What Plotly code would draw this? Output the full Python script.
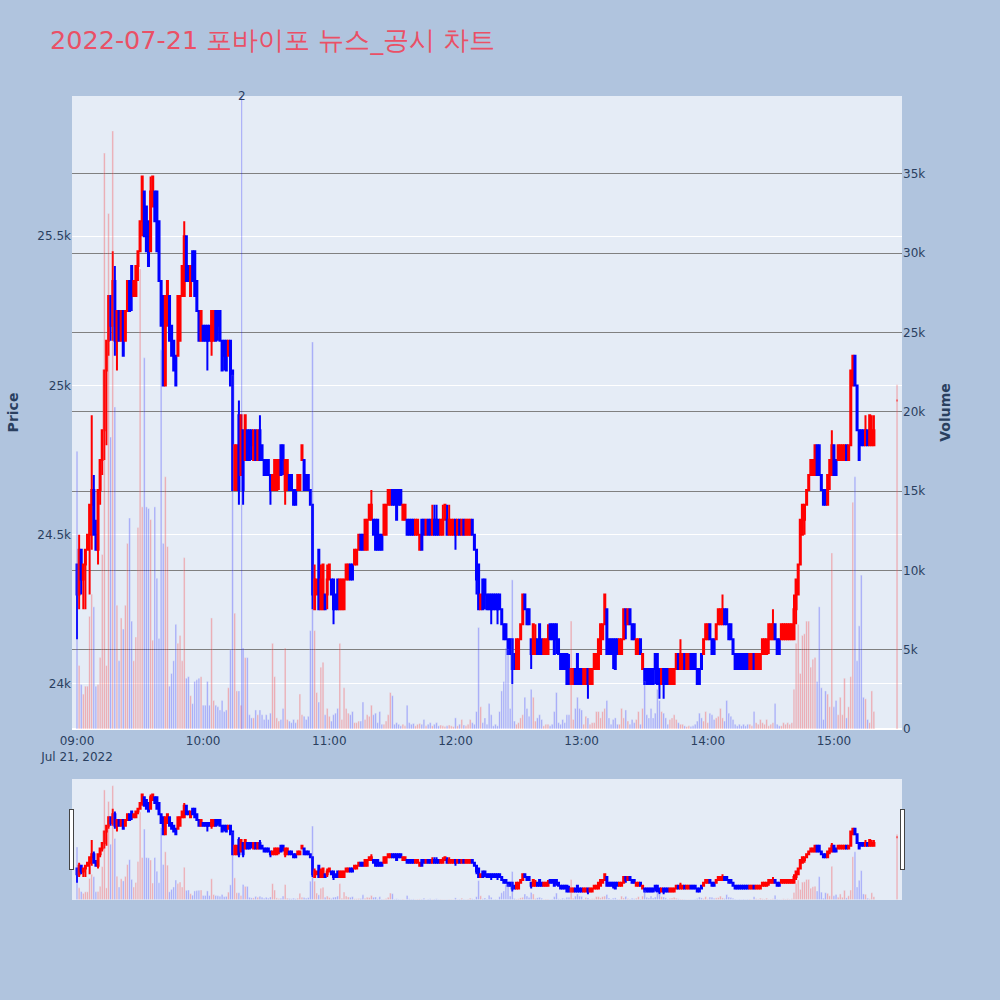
import pandas as pd
import plotly.graph_objects as go
from plotly.subplots import make_subplots

# ---- data (1-minute bars, 09:00 .. 15:19, plus 15:30 closing auction) ----
minute_times = [t.strftime("%Y-%m-%d %H:%M:%S") for t in pd.date_range("2022-07-21 09:00", periods=380, freq="min")]
times = minute_times + ["2022-07-21 15:30:00"]

open_ = [
    24400,24300,24450,24350,24400,24450,24500,24600,24650,24500,  # 09:00
    24450,24650,24750,24850,25050,25150,25300,25200,25350,25150,  # 09:10
    25250,25150,25250,25150,25250,25350,25400,25300,25300,25400,  # 09:20
    25450,25550,25650,25600,25550,25450,25600,25650,25650,25550,  # 09:30
    25350,25300,25000,25200,25300,25200,25150,25100,25100,25150,  # 09:40
    25300,25300,25500,25400,25300,25450,25450,25350,25250,25150,  # 09:50
    25200,25200,25200,25200,25150,25150,25250,25250,25250,25150,  # 10:00
    25150,25150,25100,25150,25050,24650,24650,24900,24700,24850,  # 10:10
    24750,24850,24850,24850,24750,24850,24750,24850,24800,24750,  # 10:20
    24750,24750,24700,24650,24650,24650,24700,24800,24800,24650,  # 10:30
    24650,24700,24700,24650,24650,24650,24650,24750,24750,24700,  # 10:40
    24700,24650,24600,24250,24300,24450,24250,24250,24300,24300,  # 10:50
    24350,24350,24350,24300,24350,24250,24250,24250,24350,24350,  # 11:00
    24400,24400,24400,24400,24450,24500,24500,24450,24450,24550,  # 11:10
    24550,24550,24550,24550,24500,24500,24500,24500,24600,24600,  # 11:20
    24650,24650,24650,24650,24650,24550,24550,24550,24550,24550,  # 11:30
    24550,24500,24500,24450,24550,24550,24500,24550,24550,24500,  # 11:40
    24550,24550,24550,24500,24500,24550,24550,24500,24500,24500,  # 11:50
    24550,24500,24550,24500,24550,24500,24500,24500,24550,24500,  # 12:00
    24450,24400,24250,24350,24350,24300,24300,24300,24300,24300,  # 12:10
    24300,24300,24250,24200,24200,24150,24150,24150,24100,24050,  # 12:20
    24050,24150,24200,24300,24250,24250,24150,24100,24100,24150,  # 12:30
    24200,24150,24100,24100,24100,24200,24200,24200,24200,24150,  # 12:40
    24100,24100,24100,24100,24050,24000,24000,24050,24100,24050,  # 12:50
    24050,24000,24000,24050,24000,24000,24050,24050,24050,24100,  # 13:00
    24150,24200,24250,24150,24150,24150,24150,24150,24100,24100,  # 13:10
    24150,24250,24200,24250,24200,24200,24100,24100,24150,24050,  # 13:20
    24050,24050,24050,24050,24050,24100,24100,24050,24000,24050,  # 13:30
    24050,24050,24000,24000,24000,24050,24100,24050,24050,24100,  # 13:40
    24050,24050,24100,24100,24100,24050,24050,24100,24100,24150,  # 13:50
    24150,24200,24150,24150,24150,24200,24200,24200,24250,24250,  # 14:00
    24200,24200,24150,24100,24100,24100,24100,24100,24100,24100,  # 14:10
    24050,24050,24100,24050,24050,24050,24100,24100,24100,24150,  # 14:20
    24150,24150,24200,24150,24150,24150,24150,24150,24150,24150,  # 14:30
    24150,24150,24250,24300,24400,24500,24550,24600,24650,24700,  # 14:40
    24700,24700,24800,24800,24700,24650,24650,24600,24700,24700,  # 14:50
    24800,24750,24750,24750,24750,24750,24800,24750,24800,25000,  # 15:00
    25100,25000,24850,24850,24850,24800,24850,24800,24800,24800,  # 15:10
    24950,                                                        # 15:30
]
high = [
    24400,24500,24450,24400,24450,24500,24600,24900,24700,24550,
    24650,24750,24850,25050,25150,25300,25300,25450,25400,25250,
    25250,25250,25250,25250,25350,25350,25400,25350,25400,25450,
    25550,25700,25650,25600,25550,25700,25700,25650,25650,25550,
    25350,25300,25300,25350,25300,25200,25150,25100,25300,25300,
    25400,25550,25500,25400,25400,25450,25450,25350,25250,25250,
    25200,25200,25200,25200,25250,25250,25250,25250,25250,25150,
    25150,25150,25150,25150,25050,24800,24800,24950,24900,24850,
    24900,24850,24850,24850,24850,24850,24850,24900,24800,24750,
    24750,24750,24700,24700,24750,24750,24750,24800,24800,24750,
    24750,24700,24700,24650,24650,24700,24700,24800,24750,24700,
    24700,24650,24600,24400,24350,24450,24400,24400,24300,24400,
    24400,24350,24350,24300,24350,24350,24350,24350,24400,24400,
    24400,24400,24450,24450,24500,24500,24500,24550,24550,24600,
    24650,24550,24550,24550,24500,24500,24600,24600,24650,24650,
    24650,24650,24650,24650,24650,24600,24600,24550,24550,24550,
    24550,24550,24550,24500,24550,24550,24550,24550,24550,24600,
    24600,24600,24550,24550,24600,24600,24600,24600,24550,24550,
    24550,24550,24550,24550,24550,24550,24550,24550,24550,24500,
    24450,24400,24300,24350,24350,24300,24300,24300,24300,24300,
    24300,24300,24250,24200,24200,24150,24150,24150,24100,24150,
    24150,24200,24300,24300,24250,24250,24150,24200,24200,24150,
    24200,24150,24150,24150,24200,24200,24200,24200,24200,24150,
    24100,24100,24100,24100,24100,24050,24050,24050,24100,24050,
    24050,24050,24050,24050,24050,24050,24100,24100,24150,24200,
    24200,24300,24250,24150,24150,24150,24150,24150,24150,24150,
    24250,24250,24250,24250,24200,24200,24150,24150,24150,24100,
    24050,24050,24050,24050,24050,24100,24100,24050,24050,24050,
    24050,24050,24050,24050,24050,24100,24100,24150,24100,24100,
    24100,24100,24100,24100,24100,24050,24050,24100,24150,24200,
    24200,24200,24150,24150,24200,24250,24250,24300,24250,24250,
    24200,24200,24150,24100,24100,24100,24100,24100,24100,24100,
    24100,24100,24100,24100,24100,24100,24150,24150,24150,24200,
    24200,24250,24200,24150,24150,24200,24200,24200,24200,24200,
    24200,24300,24350,24400,24550,24600,24600,24650,24700,24750,
    24750,24800,24800,24800,24700,24650,24650,24700,24750,24850,
    24800,24750,24800,24800,24800,24800,24800,24800,25050,25100,
    25100,25000,24850,24850,24850,24900,24850,24900,24900,24900,
    24950,
]
low = [
    24150,24250,24300,24250,24250,24450,24300,24450,24500,24450,
    24400,24600,24700,24750,24800,25100,25150,25150,25100,25050,
    25150,25150,25100,25150,25250,25250,25250,25300,25300,25350,
    25450,25500,25500,25450,25400,25450,25600,25550,25450,25350,
    25200,25000,25000,25200,25150,25100,25050,25000,25100,25150,
    25300,25300,25350,25350,25300,25350,25300,25250,25150,25150,
    25150,25150,25050,25150,25100,25150,25150,25150,25150,25050,
    25050,25050,25100,25000,24650,24650,24650,24600,24700,24600,
    24750,24750,24750,24750,24750,24750,24750,24750,24750,24700,
    24700,24700,24600,24650,24650,24650,24650,24700,24700,24600,
    24650,24650,24650,24600,24600,24650,24650,24750,24650,24650,
    24650,24600,24250,24250,24300,24250,24250,24250,24250,24250,
    24350,24300,24200,24250,24250,24250,24250,24250,24350,24350,
    24350,24350,24400,24400,24450,24450,24450,24450,24450,24550,
    24550,24500,24450,24450,24450,24450,24500,24500,24600,24600,
    24600,24600,24550,24600,24600,24550,24550,24500,24500,24500,
    24500,24500,24500,24450,24450,24500,24500,24500,24500,24500,
    24500,24500,24500,24500,24500,24550,24500,24500,24500,24500,
    24450,24500,24500,24500,24500,24500,24500,24500,24500,24450,
    24300,24250,24250,24250,24250,24250,24250,24200,24250,24250,
    24200,24250,24200,24150,24150,24100,24100,24000,24050,24050,
    24050,24150,24200,24250,24200,24200,24050,24100,24100,24100,
    24100,24100,24100,24100,24100,24150,24150,24100,24100,24100,
    24050,24050,24050,24000,24000,24000,24000,24000,24000,24000,
    24000,24000,24000,23950,24000,24000,24050,24050,24050,24100,
    24150,24200,24100,24100,24100,24050,24050,24100,24100,24100,
    24150,24150,24200,24200,24150,24150,24100,24100,24100,24050,
    24000,24000,24000,24000,24000,24000,24000,23950,24000,23950,
    24000,24000,24000,24000,24000,24050,24050,24050,24050,24050,
    24050,24050,24050,24050,24050,24000,24000,24050,24100,24150,
    24150,24150,24100,24100,24150,24200,24200,24200,24200,24200,
    24150,24150,24100,24050,24050,24050,24050,24050,24050,24050,
    24050,24050,24050,24050,24050,24050,24100,24100,24100,24100,
    24150,24150,24150,24100,24100,24150,24150,24150,24150,24150,
    24150,24150,24200,24300,24400,24500,24500,24600,24650,24700,
    24700,24700,24700,24700,24650,24600,24600,24600,24650,24700,
    24700,24700,24750,24750,24750,24750,24750,24750,24800,25000,
    25000,24850,24750,24800,24800,24800,24800,24800,24800,24800,
    24950,
]
close = [
    24300,24450,24350,24400,24450,24500,24600,24650,24500,24450,
    24650,24750,24850,25050,25150,25300,25200,25350,25150,25250,
    25150,25250,25100,25250,25350,25250,25300,25350,25400,25450,
    25550,25700,25500,25450,25400,25650,25700,25550,25450,25350,
    25200,25000,25300,25350,25150,25100,25050,25000,25300,25300,
    25400,25500,25350,25350,25400,25350,25300,25250,25150,25250,
    25150,25150,25150,25150,25250,25250,25150,25200,25150,25050,
    25100,25050,25150,25000,24650,24800,24800,24650,24900,24650,
    24900,24750,24750,24800,24850,24750,24850,24750,24750,24700,
    24700,24700,24650,24700,24750,24750,24750,24700,24750,24750,
    24750,24650,24650,24600,24600,24700,24700,24800,24650,24650,
    24650,24600,24300,24350,24350,24250,24350,24400,24250,24350,
    24400,24300,24250,24250,24250,24350,24350,24350,24400,24400,
    24350,24350,24450,24450,24500,24450,24450,24550,24550,24600,
    24600,24500,24450,24450,24450,24450,24600,24600,24650,24650,
    24600,24600,24550,24600,24600,24600,24600,24500,24500,24500,
    24500,24550,24550,24500,24450,24500,24550,24500,24500,24550,
    24500,24500,24500,24550,24550,24600,24500,24550,24550,24550,
    24500,24550,24500,24550,24500,24550,24550,24550,24500,24450,
    24350,24250,24300,24250,24300,24250,24250,24250,24250,24250,
    24250,24250,24200,24150,24150,24100,24100,24050,24050,24150,
    24150,24200,24300,24250,24200,24200,24100,24200,24150,24100,
    24100,24100,24150,24150,24150,24150,24150,24100,24150,24100,
    24050,24050,24050,24000,24000,24050,24050,24000,24000,24000,
    24000,24050,24050,24000,24050,24050,24100,24100,24150,24200,
    24200,24300,24100,24100,24100,24100,24050,24100,24150,24150,
    24250,24200,24250,24200,24150,24150,24150,24150,24100,24100,
    24000,24000,24000,24000,24000,24050,24000,24000,24050,24000,
    24000,24000,24050,24050,24050,24100,24050,24100,24100,24050,
    24100,24100,24050,24050,24050,24000,24000,24050,24150,24200,
    24200,24150,24100,24100,24200,24250,24250,24250,24200,24200,
    24150,24150,24100,24050,24050,24050,24050,24050,24050,24050,
    24100,24100,24050,24100,24100,24100,24150,24150,24150,24200,
    24200,24200,24150,24100,24100,24200,24200,24200,24200,24200,
    24200,24250,24350,24400,24550,24600,24600,24650,24700,24750,
    24750,24800,24700,24700,24650,24600,24600,24700,24750,24800,
    24700,24700,24800,24800,24800,24800,24750,24800,25050,25100,
    25000,24850,24750,24800,24800,24850,24800,24900,24850,24850,
    24950,
]
volume = [
    17500,4000,2800,2200,2700,2700,7100,8500,7700,2700,
    2800,4500,11000,36300,4000,32500,18400,37700,20300,7800,
    4300,7000,6300,7800,11700,13300,6800,4300,5800,12700,
    29000,14000,23400,14000,13900,13200,5600,14000,9500,5700,
    23900,11700,15900,11500,2700,3500,4300,6600,5400,5900,
    4300,10800,3200,3300,2100,1600,3000,3100,3200,3300,
    1500,1500,3000,1500,7000,1800,1500,1400,1200,1800,
    1100,1200,2600,5000,22300,7300,2400,2400,1500,5100,
    4500,4500,900,700,700,1200,900,1200,900,600,
    900,600,1000,5400,3300,700,500,600,1300,5100,
    600,500,400,600,400,600,2200,900,800,600,
    800,6200,24400,6200,2300,1700,3900,4200,900,1300,
    800,500,900,1000,1300,5400,600,2600,1300,1000,
    900,1100,400,400,500,500,1700,600,900,800,
    1500,900,1000,400,1100,300,300,500,900,2300,
    2100,300,400,300,200,300,200,1500,400,300,
    350,200,300,350,300,600,200,300,400,200,
    300,400,200,250,200,150,200,250,200,150,
    700,200,300,600,250,200,300,600,400,300,
    1100,6400,1400,400,700,300,1600,900,200,300,
    200,1100,2400,3000,5100,5000,1300,9400,500,300,
    400,700,900,2000,1300,800,2500,2000,500,700,
    900,600,200,300,300,200,300,1100,2300,400,
    300,600,400,900,900,6800,600,1300,2000,1300,
    1200,300,800,700,300,400,400,1100,1100,700,
    1100,1300,1800,700,300,600,700,300,300,1300,
    700,1200,500,300,600,400,600,1100,300,1300,
    3000,900,700,1300,700,1000,2500,1800,1100,1000,
    700,300,600,700,900,600,400,300,300,200,
    150,200,150,200,300,500,1000,700,500,1100,
    400,1000,900,600,700,800,1300,700,500,1800,
    1000,800,600,300,200,300,200,300,200,300,
    300,200,1100,400,300,600,400,300,600,200,
    300,400,1600,300,200,200,400,300,400,300,
    400,2500,5400,6600,3500,5900,6000,6800,6800,3900,
    4400,4500,3000,7700,2600,600,2400,2200,1400,11100,
    1400,1800,900,2000,900,3200,700,1400,3300,14300,
    15900,4300,6500,9700,2000,1900,600,400,2400,1100,
    21700,
]

news_time = "2022-07-21 10:18:20"
news_label = "2"
title_text = "2022-07-21 포바이포 뉴스_공시 차트"

# volume colour follows candle direction
bar_colors = []
prev_c = None
for o, c in zip(open_, close):
    if c > o:
        up = True
    elif c < o:
        up = False
    else:
        up = prev_c is None or c >= prev_c
    bar_colors.append("red" if up else "blue")
    prev_c = c

fig = make_subplots(specs=[[{"secondary_y": True}]])
fig.add_trace(
    go.Candlestick(
        x=times, open=open_, high=high, low=low, close=close,
        increasing=dict(line=dict(color="red"), fillcolor="red"),
        decreasing=dict(line=dict(color="blue"), fillcolor="blue"),
        name="Price",
    ),
    secondary_y=False,
)
fig.add_trace(
    go.Bar(x=times, y=volume, marker=dict(color=bar_colors), opacity=0.3, name="Volume"),
    secondary_y=True,
)

fig.add_shape(type="line", x0=news_time, x1=news_time, y0=0, y1=1, xref="x", yref="paper",
              line=dict(color="rgba(0,0,255,0.3)", width=1))
fig.add_annotation(x=news_time, y=1, xref="x", yref="paper", text=news_label,
                   showarrow=False, yanchor="middle")

fig.update_layout(
    width=1000, height=1000,
    font=dict(family="DejaVu Sans, Verdana, sans-serif"),
    title=dict(text=title_text, font=dict(size=25.5, color="#EA5066"), x=0.05, y=0.96, yanchor="middle"),
    paper_bgcolor="lightsteelblue",
    showlegend=False,
    margin=dict(l=72, r=98, t=96, b=100),
)
fig.update_xaxes(range=["2022-07-21 08:57:37", "2022-07-21 15:32:22"], domain=[0, 1],
                 ticks="outside", ticklen=1, tickcolor="rgba(0,0,0,0)",
                 rangeslider=dict(visible=True), automargin=False)
fig.update_yaxes(title_text="<b>Price</b>", range=[23849, 25970], automargin=False, secondary_y=False)
fig.update_yaxes(title_text="<b>Volume</b>", range=[0, 39900], gridcolor="grey",
                 automargin=False, secondary_y=True)

fig.write_html("out.html", config={"displayModeBar": False},
               post_script="document.body.style.margin='0px';")
